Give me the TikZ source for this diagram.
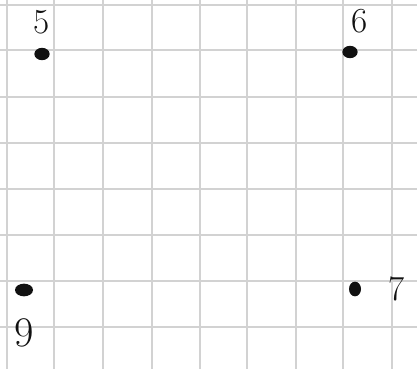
\documentclass[tikz,border=0pt]{standalone}
\usepackage{tikz}
\usetikzlibrary{
positioning,
shapes.geometric
}
\definecolor{SketchGrid}{HTML}{D2D2D2}
\definecolor{SketchInk}{HTML}{111111}
\definecolor{SketchPaper}{HTML}{FFFFFF}
\tikzset{
sketchgrid/.style={draw=SketchGrid, line width=2.2pt},
sketchdot/.style={ellipse, fill=SketchInk, inner sep=0pt,
  minimum width=4.6mm, minimum height=3.7mm},
sketchlabel/.style={text=SketchInk, inner sep=0pt,
  font=\fontsize{30}{32}\selectfont}
}

\begin{document}
\begin{tikzpicture}[x=0.3mm, y=-0.3mm]
\fill[SketchPaper] (0,0) rectangle (417,369);
\useasboundingbox (0,0) rectangle (417,369);
% squared paper
\foreach \gx in {7,54,103,152,200,247,296,343,392}
  \draw[sketchgrid] (\gx,0) -- (\gx,369);
\foreach \gy in {5,50,97,143,189,235,281,327}
  \draw[sketchgrid] (0,\gy) -- (417,\gy);

\node[sketchdot] (p5) at (42,54) {};
\node[sketchdot] (p6) at (350,52) {};
\node[sketchdot, minimum width=5.4mm, minimum height=3.8mm] (p9) at (24,290) {};
\node[sketchdot, minimum width=3.6mm, minimum height=4.4mm] (p7) at (355,289) {};

\node[sketchlabel, above=4mm of p5] (l5) {5};
\node[sketchlabel, above=3.6mm of p6, xshift=3mm] (l6) {6};
\node[sketchlabel, right=8mm of p7] (l7) {7};
\node[sketchlabel, below=6.5mm of p9, font=\fontsize{36}{38}\selectfont] (l9) {9};
\end{tikzpicture}
\end{document}
